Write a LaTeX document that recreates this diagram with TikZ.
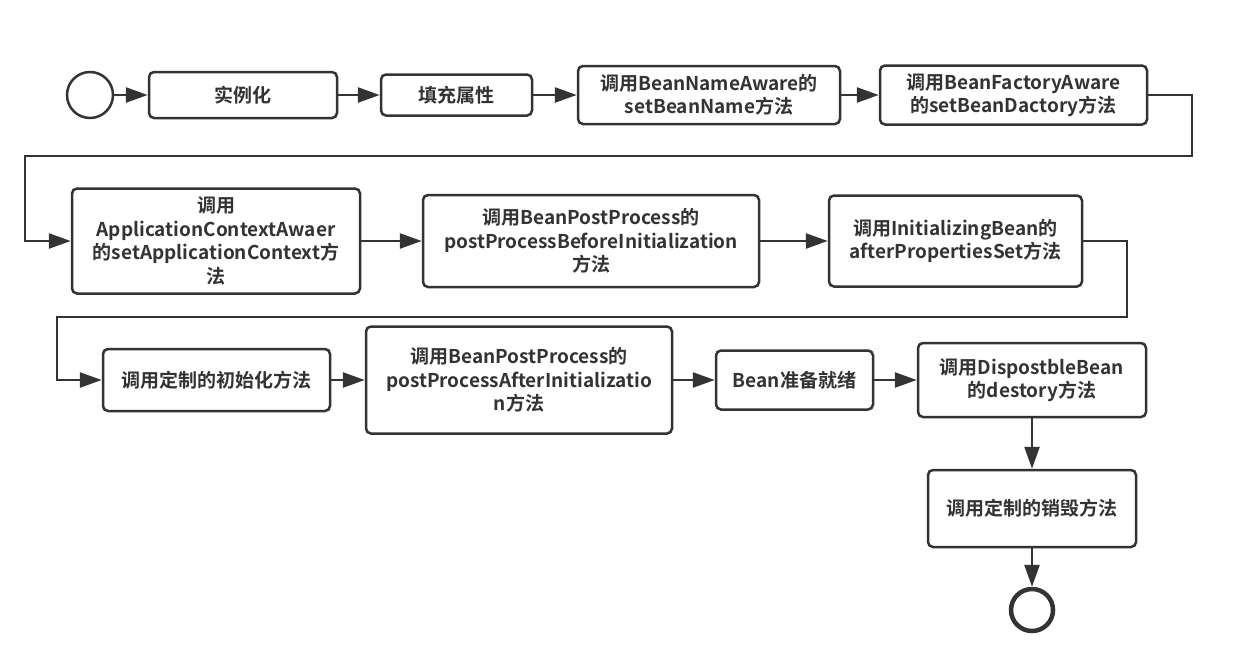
\documentclass[tikz,border=0pt]{standalone}
\usepackage{fontspec}
\setmainfont{Noto Sans CJK SC}[BoldFont={Noto Sans CJK SC Bold}]
\usetikzlibrary{arrows.meta}
\definecolor{ink}{HTML}{333333}
\begin{document}
\begin{tikzpicture}[x=1pt,y=-1pt,
  box/.style={draw=ink, line width=2.5pt, rounded corners=5pt, fill=white,
    align=center, inner sep=2pt, text=ink,
    font=\fontsize{19}{23.5}\selectfont\bfseries},
  startcirc/.style={draw=ink, line width=2.5pt, circle, fill=white, inner sep=0pt},
  endcirc/.style={draw=ink, line width=4.5pt, circle, fill=white, inner sep=0pt},
  flow/.style={draw=ink, line width=2.5pt, -{Triangle[length=22pt,width=15pt]}}]
\useasboundingbox (0,0) rectangle (1233,659);
% row 1
\node[startcirc, minimum size=46pt] (s) at (90,95) {};
\node[box, minimum width=188pt, minimum height=46pt] (n2) at (243,95) {实例化};
\node[box, minimum width=151pt, minimum height=41pt] (n3) at (456.5,95) {填充属性};
\node[box, minimum width=262pt, minimum height=58pt] (n4) at (709,95) {调用BeanNameAware的\\setBeanName方法};
\node[box, minimum width=267pt, minimum height=59pt] (n5) at (1013.5,95) {调用BeanFactoryAware\\的setBeanDactory方法};
% row 2
\node[box, minimum width=288pt, minimum height=105pt] (n6) at (216,241) {调用\\ApplicationContextAwaer\\的setApplicationContext方\\法};
\node[box, minimum width=336pt, minimum height=92pt] (n7) at (591,241) {调用BeanPostProcess的\\postProcessBeforeInitialization\\方法};
\node[box, minimum width=253pt, minimum height=91pt] (n8) at (955.5,241) {调用InitializingBean的\\afterPropertiesSet方法};
% row 3
\node[box, minimum width=227pt, minimum height=62pt] (n9) at (216.5,380) {调用定制的初始化方法};
\node[box, minimum width=306pt, minimum height=107pt] (n10) at (519,380) {调用BeanPostProcess的\\postProcessAfterInitializatio\\n方法};
\node[box, minimum width=157pt, minimum height=59pt] (n11) at (794.5,380) {Bean准备就绪};
\node[box, minimum width=228pt, minimum height=74pt] (n12) at (1032,380) {调用DispostbleBean\\的destory方法};
% column
\node[box, minimum width=208pt, minimum height=77pt] (n13) at (1032,508.5) {调用定制的销毁方法};
\node[endcirc, minimum size=42pt] (e) at (1032,610) {};
% elbow points
\coordinate (c1) at (1192,156);
\coordinate (c2) at (25,156);
\coordinate (c3) at (1127,317);
\coordinate (c4) at (57,317);
% connectors
\draw[flow] (s) -- (n2);
\draw[flow] (n2) -- (n3);
\draw[flow] (n3) -- (n4);
\draw[flow] (n4) -- (n5);
\draw[flow] (n5.east) -| (c1) -- (c2) |- (n6.west);
\draw[flow] (n6) -- (n7);
\draw[flow] (n7) -- (n8);
\draw[flow] (n8.east) -| (c3) -- (c4) |- (n9.west);
\draw[flow] (n9) -- (n10);
\draw[flow] (n10) -- (n11);
\draw[flow] (n11) -- (n12);
\draw[flow] (n12) -- (n13);
\draw[flow] (n13) -- (e);
\end{tikzpicture}
\end{document}
